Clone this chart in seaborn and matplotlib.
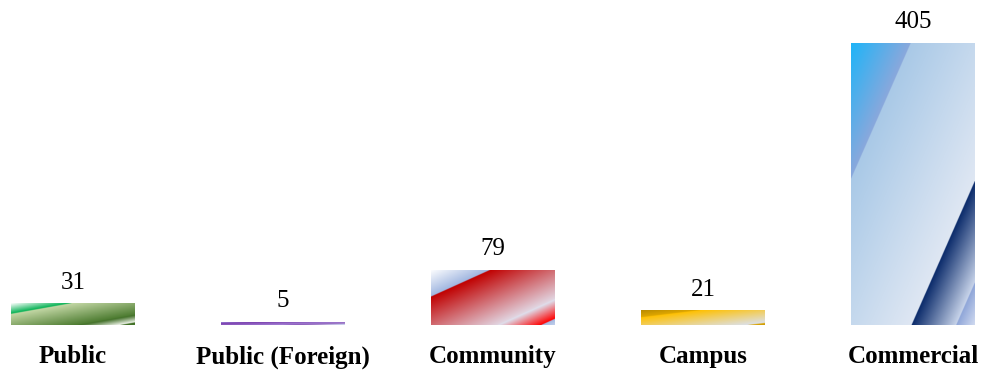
import numpy as np
import matplotlib
matplotlib.use("Agg")
import matplotlib.pyplot as plt
from matplotlib.colors import to_rgb
import seaborn as sns

categories = ["Public", "Public (Foreign)", "Community", "Campus", "Commercial"]
counts = [31, 5, 79, 21, 405]

# Gradient bands running from the top-left to the bottom-right corner of each bar:
# (band start, band end, colour at start, colour at end)
fills = {
    "Public": [(0.00, 0.245, "#ffffff", "#00b050"),
               (0.245, 0.77, "#c4d8a6", "#4c7b30"),
               (0.77, 0.94, "#3c6b22", "#f6f9f2"),
               (0.94, 1.00, "#3a6a20", "#4a7a2e")],
    "Public (Foreign)": [(0.00, 0.24, "#b9c4ee", "#9070d0"),
                         (0.24, 0.75, "#7535a8", "#a585d6"),
                         (0.75, 0.93, "#7030a0", "#e0e8f8"),
                         (0.93, 1.00, "#b8c8ee", "#dfe6f6")],
    "Community": [(0.00, 0.245, "#ffffff", "#a0b6e0"),
                  (0.245, 0.77, "#c00000", "#e2d6e2"),
                  (0.77, 0.945, "#dde4f2", "#ff0000"),
                  (0.945, 1.00, "#a4b8e0", "#c2d0ec")],
    "Campus": [(0.00, 0.24, "#b88a00", "#e0a800"),
               (0.24, 0.93, "#ffc000", "#dce1ea"),
               (0.93, 1.00, "#e0a800", "#c89a10")],
    "Commercial": [(0.00, 0.24, "#1eb4f8", "#8aa8dc"),
                   (0.24, 0.745, "#a9c9e7", "#dfe7f3"),
                   (0.745, 0.925, "#0a2a6a", "#c8d4ea"),
                   (0.925, 1.00, "#8ea5d8", "#d0daf0")],
}


def gradient_image(bands, n=300):
    u = np.linspace(0, 1, n)
    d = np.linspace(0, 1, n)
    uu, dd = np.meshgrid(u, d)
    t = (uu + dd) / 2
    img = np.ones((n, n, 3))
    for t0, t1, c0, c1 in bands:
        m = (t >= t0) & (t <= t1)
        f = ((t - t0) / (t1 - t0))[m][:, None]
        img[m] = np.array(to_rgb(c0)) * (1 - f) + np.array(to_rgb(c1)) * f
    return img


sns.set_style("white")
plt.rcParams["font.family"] = ["Liberation Serif", "DejaVu Serif"]

fig = plt.figure(figsize=(9.84, 3.72), dpi=100)
ax = fig.add_axes([0, 47 / 372, 1, 325 / 372])

sns.barplot(x=categories, y=counts, width=0.59, color="white", ax=ax,
            edgecolor="none", linewidth=0)

for cat, patch in zip(categories, ax.patches):
    x0, y0 = patch.get_x(), patch.get_y()
    x1, y1 = x0 + patch.get_width(), y0 + patch.get_height()
    im = ax.imshow(gradient_image(fills[cat]), extent=(x0, x1, y0, y1),
                   aspect="auto", interpolation="bilinear", zorder=2)
    im.set_clip_path(patch)

ax.bar_label(ax.containers[0], labels=[str(v) for v in counts],
             padding=7, fontsize=18, color="#000000")

ax.set_xlim(-73 / 210, (984 - 73) / 210)
ax.set_ylim(0, 466.8)
ax.set_yticks([])
ax.set_xlabel("")
ax.set_ylabel("")
ax.tick_params(axis="x", length=0, pad=27.6, labelcolor="#000000")
ax.set_xticks(range(len(categories)))
ax.set_xticklabels(categories, fontsize=18, fontweight="bold", va="baseline",
                   color="#000000")
for s in ax.spines.values():
    s.set_visible(False)

fig.savefig("out.png", dpi=100)
